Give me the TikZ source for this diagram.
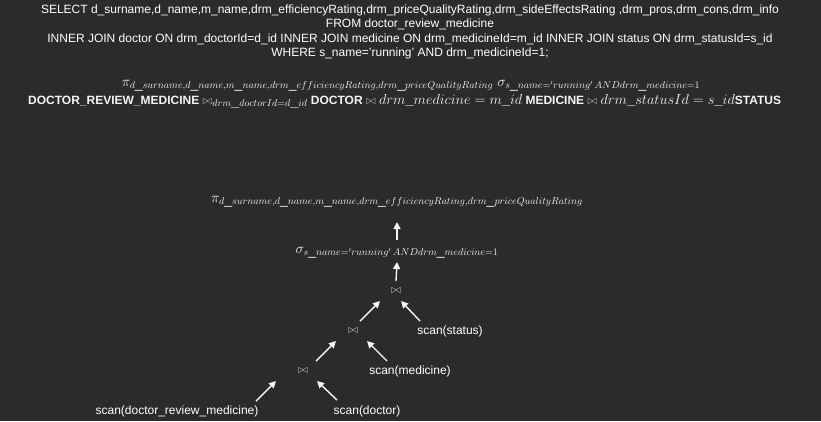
\documentclass[tikz,border=0pt]{standalone}
\usepackage{fontspec}
\setmainfont{Liberation Sans}
\usetikzlibrary{arrows.meta}
\definecolor{panelbg}{HTML}{2B2B2B}
\definecolor{inkwhite}{HTML}{F4F4F4}
\tikzset{
  sqlline/.style={text=white, inner sep=0pt, anchor=base, font=\fontsize{12}{14}\selectfont},
  algline/.style={text=inkwhite, inner sep=0pt, anchor=base},
  opnode/.style={text=inkwhite, inner sep=0pt, font=\fontsize{14}{16}\selectfont},
  joinnode/.style={text=inkwhite!85!black, inner sep=0pt, font=\fontsize{13}{15}\selectfont},
  scannode/.style={text=white, inner sep=0pt, font=\fontsize{12}{14}\selectfont},
  treeedge/.style={-{Triangle[width=7pt,length=7pt]}, line width=1.4pt, draw=inkwhite}
}
\newcommand{\projtext}{\pi_{d\_surname,d\_name,m\_name,drm\_efficiencyRating,drm\_priceQualityRating}}
\newcommand{\seltext}{\sigma_{s\_name='running'\,AND drm\_medicine=1}}
\newcommand{\joinsym}{{\color{inkwhite!80!black}$\bowtie$}}
\begin{document}
\begin{tikzpicture}[x=1pt,y=-1pt]
  \fill[panelbg] (0,0) rectangle (821,421);
  \useasboundingbox (0,0) rectangle (821,421);
  % sql query
  \node[sqlline] (sql1) at (410,13.3) {SELECT d\_surname,d\_name,m\_name,drm\_efficiencyRating,drm\_priceQualityRating,drm\_sideEffectsRating ,drm\_pros,drm\_cons,drm\_info};
  \node[sqlline] (sql2) at (410,27.8) {FROM doctor\_review\_medicine};
  \node[sqlline] (sql3) at (410,42.3) {INNER JOIN doctor ON drm\_doctorId=d\_id INNER JOIN medicine ON drm\_medicineId=m\_id INNER JOIN status ON drm\_statusId=s\_id};
  \node[sqlline] (sql4) at (410,56.8) {WHERE s\_name='running' AND drm\_medicineId=1;};
  % relational algebra
  \node[algline, font=\fontsize{14}{16}\selectfont] (alg1) at (411,86.5) {$\projtext\ \seltext$};
  \node[algline, anchor=base west, font=\fontsize{12}{14}\selectfont\bfseries] (alg2) at (28,104) {DOCTOR\_REVIEW\_MEDICINE \joinsym{\fontsize{14.6}{16}\selectfont$_{drm\_doctorId=d\_id}$} DOCTOR \joinsym\ {\fontsize{14.8}{16}\selectfont$drm\_medicine = m\_id$} MEDICINE \joinsym\ {\fontsize{14.8}{16}\selectfont$drm\_statusId = s\_id$}STATUS};
  % query tree
  \node[opnode] (proj) at (397,202) {$\projtext$};
  \node[opnode] (sel) at (397,253) {$\seltext$};
  \node[joinnode] (j1) at (396,291) {$\bowtie$};
  \node[joinnode] (j2) at (353,331) {$\bowtie$};
  \node[joinnode] (j3) at (303,371) {$\bowtie$};
  \node[scannode] (status) at (450,331) {scan(status)};
  \node[scannode] (medicine) at (410,371) {scan(medicine)};
  \node[scannode] (drm) at (177,411) {scan(doctor\_review\_medicine)};
  \node[scannode] (doctor) at (367,411) {scan(doctor)};
  \draw[treeedge] ([yshift=13pt]sel.center) -- ([yshift=-20pt]proj.center);
  \draw[treeedge] ([yshift=10pt]j1.center) -- ([yshift=-9pt]sel.center);
  \draw[treeedge] ([xshift=7pt,yshift=10pt]j2.center) -- ([xshift=-16pt,yshift=-10pt]j1.center);
  \draw[treeedge] ([xshift=-30pt,yshift=10pt]status.center) -- ([xshift=5pt,yshift=-10pt]j1.center);
  \draw[treeedge] ([xshift=13pt,yshift=10pt]j3.center) -- ([xshift=-17pt,yshift=-10pt]j2.center);
  \draw[treeedge] ([xshift=-23pt,yshift=10pt]medicine.center) -- ([xshift=14pt,yshift=-10pt]j2.center);
  \draw[treeedge] ([xshift=79pt,yshift=10pt]drm.center) -- ([xshift=-27pt,yshift=-10pt]j3.center);
  \draw[treeedge] ([xshift=-30pt,yshift=11pt]doctor.center) -- ([xshift=14pt,yshift=-10pt]j3.center);
\end{tikzpicture}
\end{document}
